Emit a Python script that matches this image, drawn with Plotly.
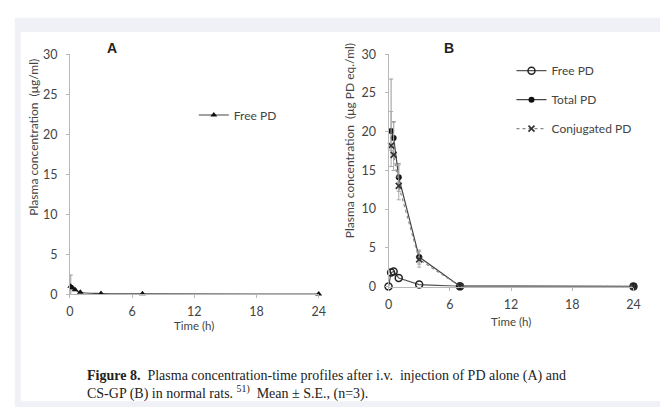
import plotly.graph_objects as go

# ---- data ----
# Panel A: PD alone, free PD
time_a = [0.083, 0.25, 0.5, 1, 3, 7, 24]
free_a = [1.0, 0.8, 0.55, 0.25, 0.08, 0.05, 0.02]
free_a_err = [1.4, 0.2, 0.1, 0.05, 0.02, 0.0, 0.0]

# Panel B: CS-GP
time_b_free = [0, 0.25, 0.5, 1, 3, 7, 24]
free_b = [0.0, 1.8, 1.95, 1.1, 0.25, 0.02, 0.0]

time_b = [0.25, 0.5, 1, 3, 7, 24]
total_b = [20.1, 19.2, 14.1, 3.8, 0.05, 0.02]
total_err_up = [6.7, 2.1, 1.8, 0.9, 0.0, 0.0]
total_err_dn = [2.5, 2.1, 1.8, 0.9, 0.0, 0.0]
conj_b = [18.2, 17.0, 13.0, 3.5, 0.03, 0.02]
conj_err_up = [4.4, 4.2, 2.7, 1.0, 0.0, 0.0]
conj_err_dn = [2.7, 2.0, 1.8, 1.0, 0.0, 0.0]

x_ticks = [0, 6, 12, 18, 24]
y_ticks = [0, 5, 10, 15, 20, 25, 30]

W, H = 667, 414
FONT = "Lato"
TXT = "#444444"
AX = "#b8b8b8"


def px(x):
    return x / W


def py(y):
    return 1 - y / H


fig = go.Figure()

fig.add_trace(go.Scatter(
    x=time_a, y=free_a, name="Free PD", mode="lines+markers",
    line=dict(color="#444444", width=1.2, shape="spline"),
    marker=dict(symbol="triangle-up", size=6, color="#111111"),
    error_y=dict(type="data", array=free_a_err, color="#999999", thickness=1, width=2),
    xaxis="x", yaxis="y", legend="legend", showlegend=True, cliponaxis=False,
))

fig.add_trace(go.Scatter(
    x=time_b_free, y=free_b, name="Free PD", mode="lines+markers",
    line=dict(color="#555555", width=1.2),
    marker=dict(symbol="circle-open", size=7, color="#222222", line=dict(width=1.5)),
    xaxis="x2", yaxis="y2", legend="legend2", legendgroup="g1", showlegend=True,
    cliponaxis=False,
))
fig.add_trace(go.Scatter(
    x=time_b, y=total_b, name="Total PD", mode="lines+markers",
    line=dict(color="#444444", width=1.2),
    marker=dict(symbol="circle", size=6, color="#111111"),
    error_y=dict(type="data", array=total_err_up, arrayminus=total_err_dn,
                 color="#999999", thickness=1, width=2),
    xaxis="x2", yaxis="y2", legend="legend2", legendgroup="g2", showlegend=True,
    cliponaxis=False,
))
fig.add_trace(go.Scatter(
    x=time_b, y=conj_b, name="Conjugated PD", mode="lines+markers",
    line=dict(color="#8a8a8a", width=1.2, dash="dot"),
    marker=dict(symbol="x-thin", size=6, color="#333333", line=dict(width=1.6, color="#333333")),
    error_y=dict(type="data", array=conj_err_up, arrayminus=conj_err_dn,
                 color="#aaaaaa", thickness=1, width=2),
    xaxis="x2", yaxis="y2", legend="legend2", legendgroup="g3", showlegend=True,
    cliponaxis=False,
))

axis_common = dict(
    showgrid=False, zeroline=False, showline=True, linecolor=AX, linewidth=1,
    ticks="outside", ticklen=3, tickcolor=AX,
    tickfont=dict(family=FONT, size=12.5, color=TXT),
)

legend_font = dict(family=FONT, size=12, color=TXT)

fig.update_layout(
    width=W, height=H,
    margin=dict(l=0, r=0, t=0, b=0),
    paper_bgcolor="white", plot_bgcolor="white",
    font=dict(family=FONT, color=TXT),
    showlegend=True,
    xaxis=dict(domain=[px(67), px(320)], range=[0, 24], tickvals=x_ticks,
               anchor="y", ticklabelstandoff=3, **axis_common),
    yaxis=dict(domain=[py(297), py(48)], range=[0, 30], tickvals=y_ticks,
               anchor="x", ticklabelstandoff=6, **axis_common),
    xaxis2=dict(domain=[px(391), px(640)], range=[0, 24], tickvals=x_ticks,
                anchor="y2", ticklabelstandoff=3, **axis_common),
    yaxis2=dict(domain=[py(289), py(48)], range=[0, 30], tickvals=y_ticks,
                anchor="x2", ticklabelstandoff=6, **axis_common),
    legend=dict(x=px(193), y=py(96), xanchor="left", yanchor="top", visible=True,
                bgcolor="rgba(0,0,0,0)", font=legend_font, itemwidth=30),
    legend2=dict(x=px(516), y=py(50), xanchor="left", yanchor="top", visible=True,
                 bgcolor="rgba(0,0,0,0)", font=legend_font,
                 itemwidth=30, tracegroupgap=10, traceorder="grouped"),
    shapes=[
        dict(type="rect", xref="paper", yref="paper", x0=px(11), x1=1, y0=0, y1=py(10),
             fillcolor="#eff1f6", line=dict(width=0), layer="below"),
        dict(type="rect", xref="paper", yref="paper", x0=px(17), x1=1, y0=py(408), y1=py(25),
             fillcolor="white", line=dict(width=0), layer="below"),
    ],
)

annotations = [
    dict(text="<b>A</b>", x=px(110), y=py(42), font=dict(family="Liberation Sans", size=14, color="#222")),
    dict(text="<b>B</b>", x=px(452), y=py(42), font=dict(family="Liberation Sans", size=14, color="#222")),
    dict(text="Plasma concentration  (μg/ml)", x=px(30), y=py(134), textangle=-90,
         font=dict(family=FONT, size=12, color=TXT)),
    dict(text="Plasma concentration  (μg PD eq./ml)", x=px(352), y=py(138), textangle=-90,
         font=dict(family=FONT, size=12, color=TXT)),
    dict(text="Time (h)", x=px(193), y=py(329), font=dict(family=FONT, size=11.5, color=TXT)),
    dict(text="Time (h)", x=px(515), y=py(325), font=dict(family=FONT, size=11.5, color=TXT)),
    dict(text="<b>Figure 8.</b>  Plasma concentration-time profiles after i.v.  injection of PD alone (A) and"
              "<br>CS-GP (B) in normal rats. <sup>51)</sup>  Mean ± S.E., (n=3).",
         x=px(82), y=py(391), xanchor="left", yanchor="middle", align="left",
         font=dict(family="Liberation Serif", size=14, color="#222")),
]
for a in annotations:
    a.setdefault("xanchor", "center")
    a.setdefault("yanchor", "middle")
    fig.add_annotation(xref="paper", yref="paper", showarrow=False, **a)

fig.write_html("out.html")
